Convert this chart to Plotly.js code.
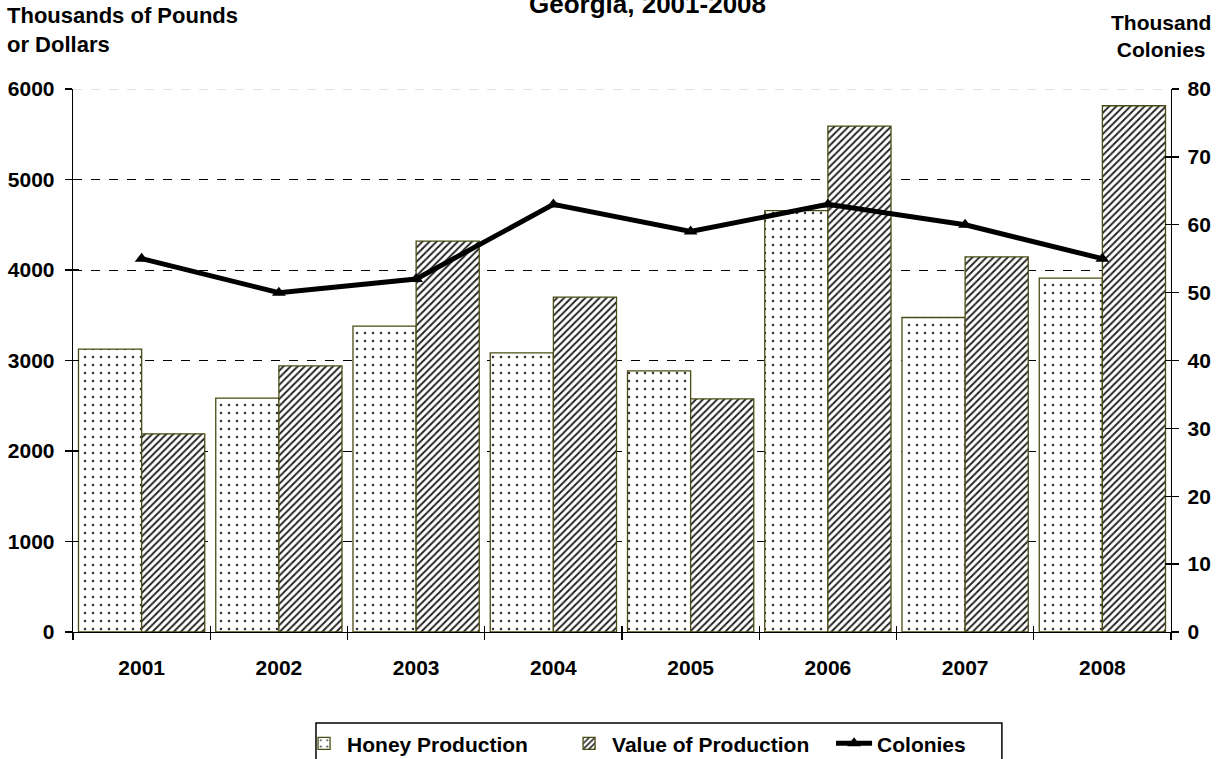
<!DOCTYPE html>
<html><head><meta charset="utf-8">
<script src="https://cdn.plot.ly/plotly-3.0.1.min.js"></script>
<style>html,body{margin:0;padding:0;background:#fff}#chart{width:1225px;height:759px}</style>
</head><body><div id="chart"></div>
<script>
const years = ['2001','2002','2003','2004','2005','2006','2007','2008'];
const honeyProduction = [3125, 2585, 3380, 3085, 2885, 4655, 3475, 3910];
const valueOfProduction = [2190, 2940, 4320, 3700, 2575, 5590, 4145, 5815];
const colonies = [55, 50, 52, 63, 59, 63, 60, 55];
const leftTicks = [0,1000,2000,3000,4000,5000,6000];
const rightTicks = [0,10,20,30,40,50,60,70,80];

const F = 'Liberation Sans, Arial, sans-serif';
const outline = '#4b4b14';
const tickFont = {family:F, size:21, weight:'bold', color:'black'};

const traces = [
  {type:'bar', name:'Honey Production', x:years, y:honeyProduction,
   marker:{color:'white', line:{color:outline, width:1.3},
     pattern:{shape:'.', fgcolor:'#333', bgcolor:'white', size:8, solidity:0.08}}},
  {type:'bar', name:'Value of Production', x:years, y:valueOfProduction,
   marker:{color:'white', line:{color:outline, width:1.3},
     pattern:{shape:'/', fgcolor:'#222', bgcolor:'white', size:5, solidity:0.38}}},
  {type:'scatter', mode:'lines+markers', name:'Colonies', x:years, y:colonies, yaxis:'y2',
   line:{color:'black', width:5}, marker:{symbol:'triangle-up', size:12, color:'black'}},
  // helper traces that only activate overlay axes (grid / inner tick halves)
  {type:'scatter', x:[years[0]], y:[null], yaxis:'y3', showlegend:false, hoverinfo:'skip'},
  {type:'scatter', x:[years[0]], y:[null], yaxis:'y4', showlegend:false, hoverinfo:'skip'},
  {type:'scatter', x:[years[0]], y:[null], yaxis:'y5', showlegend:false, hoverinfo:'skip'},
  {type:'scatter', x:[years[0]], y:[null], xaxis:'x2', showlegend:false, hoverinfo:'skip'}
];

const layout = {
  width:1225, height:759,
  margin:{l:73, r:54, t:89, b:127, autoexpand:false},
  paper_bgcolor:'white', plot_bgcolor:'white',
  font:{family:F, color:'black', size:16},
  barmode:'group', bargap:0.08, bargroupgap:0,
  showlegend:true,
  legend:{orientation:'h', x:0.2077, xanchor:'left', y:-0.168, yanchor:'top',
    bgcolor:'rgba(0,0,0,0)', borderwidth:0, font:{family:F, size:21, weight:'bold'},
    traceorder:'normal', entrywidth:214, itemwidth:36},
  xaxis:{type:'category', showline:true, linecolor:'black', linewidth:1.3,
    ticks:'outside', tickson:'boundaries', ticklen:7, tickcolor:'black', tickwidth:1.3,
    tickfont:tickFont, ticklabelstandoff:16, showgrid:false, zeroline:false},
  xaxis2:{type:'category', overlaying:'x', matches:'x', ticks:'inside', tickson:'boundaries', ticklen:6,
    tickcolor:'black', tickwidth:1.3, showticklabels:false, showgrid:false, zeroline:false, showline:false},
  yaxis:{range:[0,6000], tickvals:leftTicks, ticktext:leftTicks.map(String),
    showline:true, linecolor:'black', linewidth:1.3, ticks:'outside', ticklen:7, tickcolor:'black', tickwidth:1.3,
    tickfont:tickFont, ticklabelstandoff:6, showgrid:false, zeroline:false},
  yaxis3:{range:[0,6000], overlaying:'y', tickvals:leftTicks.slice(1,6), showticklabels:false,
    showgrid:true, gridcolor:'black', griddash:'dash', gridwidth:1, zeroline:false, showline:false, ticks:''},
  yaxis4:{range:[0,6000], overlaying:'y', tickvals:leftTicks, showticklabels:false, ticks:'inside',
    ticklen:6, tickcolor:'black', tickwidth:1.3, showgrid:false, zeroline:false, showline:false},
  yaxis2:{range:[0,80], tickvals:rightTicks, overlaying:'y', side:'right',
    showline:true, linecolor:'black', linewidth:1.3, ticks:'outside', ticklen:7, tickcolor:'black', tickwidth:1.3,
    tickfont:tickFont, ticklabelstandoff:4, showgrid:false, zeroline:false},
  yaxis5:{range:[0,80], tickvals:rightTicks, overlaying:'y', side:'right', showticklabels:false, ticks:'inside',
    ticklen:6, tickcolor:'black', tickwidth:1.3, showgrid:false, zeroline:false, showline:false},
  shapes:[
    {type:'line', xref:'paper', yref:'y', x0:0, x1:1, y0:6000, y1:6000,
     line:{color:'#c8c8c8', width:1, dash:'dash'}},
    {type:'rect', xref:'paper', yref:'paper', x0:0.2213, x1:0.846, y0:-0.1676, y1:-0.26,
     line:{color:'black', width:1.5}, fillcolor:'rgba(0,0,0,0)', layer:'above'}
  ],
  annotations:[
    {text:'<b>Georgia, 2001-2008</b>', xref:'paper', yref:'paper', x:0.523, y:1.157,
     xanchor:'center', yanchor:'middle', showarrow:false, font:{family:F, size:26}},
    {text:'<b>Thousands of Pounds<br>or Dollars</b>', xref:'paper', yref:'paper', x:-0.062, y:1.108,
     xanchor:'left', yanchor:'middle', align:'left', showarrow:false, font:{family:F, size:22}},
    {text:'<b>Thousand<br>Colonies</b>', xref:'paper', yref:'paper', x:0.991, y:1.098,
     xanchor:'center', yanchor:'middle', align:'center', showarrow:false, font:{family:F, size:21}}
  ]
};
Plotly.newPlot('chart', traces, layout, {displayModeBar:false, staticPlot:true});
</script></body></html>
